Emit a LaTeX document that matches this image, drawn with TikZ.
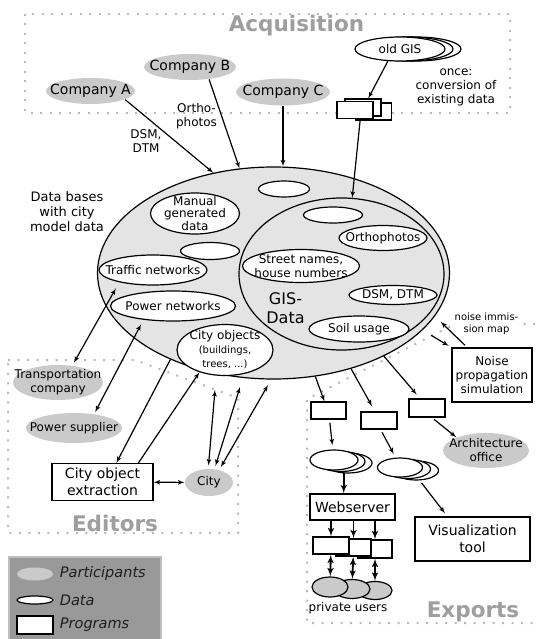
\documentclass[tikz,border=0pt]{standalone}
\usepackage{fontspec}
\setmainfont{DejaVu Sans}
\usetikzlibrary{shapes,arrows,positioning,calc}
\definecolor{dbgray}{RGB}{228,228,228}
\definecolor{partgray}{RGB}{202,202,202}
\definecolor{titlegray}{RGB}{158,158,158}
\definecolor{dotgray}{RGB}{185,185,185}
\definecolor{leggray}{RGB}{153,153,153}
\definecolor{legborder}{RGB}{190,190,190}
\definecolor{legtext}{RGB}{30,30,30}
\tikzset{
db/.style = {draw, fill=dbgray, ellipse, inner sep=0pt},
part/.style = {fill=partgray, ellipse, inner sep=0pt},
data/.style = {draw, fill=white, ellipse, inner sep=0pt},
block/.style = {draw, fill=white, rectangle, inner sep=0pt, align=center},
txt/.style = {label={[align=center]center:#1}},
bigtxt/.style = {label={[align=center, font=\fontsize{14}{16.5}\selectfont]center:#1}},
region/.style = {draw=dotgray, line width=2pt, dash pattern=on 2pt off 7.5pt},
regtitle/.style = {font=\fontsize{21.5}{24}\selectfont\bfseries, text=titlegray},
legitem/.style = {anchor=west, font=\fontsize{14.5}{16}\selectfont\itshape, text=legtext},
thickarrow/.style = {line width=1.9pt}
}
\begin{document}
\begin{tikzpicture}[x=1pt, y=-1pt, >=latex', line width=1.2pt, font=\fontsize{12}{14}\selectfont]
		\useasboundingbox (0,0) rectangle (535,639);

		\draw [region] (25,14) rectangle (510,113);
		\draw [region] (8,360) -- (135,360) -- (238,398) -- (238,533) -- (8,533) -- cycle;
		\draw [region] (535,324) -- (455,324) -- (307,399) -- (307,623) -- (535,623);

		\node [regtitle] (acqtitle) at (296.5,25.5) {Acquisition};
		\node [regtitle] (edittitle) at (115,523) {Editors};
		\node [regtitle] (exptitle) at (473,612) {Exports};

		\node [part, minimum width=89, minimum height=26, bigtxt={Company A}] (compa) at (90.5,91) {};
		\node [part, minimum width=92, minimum height=26, bigtxt={Company B}] (compb) at (190,67) {};
		\node [part, minimum width=94, minimum height=27, bigtxt={Company C}] (compc) at (283,92) {};
		\node [data, minimum width=90, minimum height=24] (oldgis2) at (416,49) {};
		\node [data, minimum width=90, minimum height=24] (oldgis1) at (408,49) {};
		\node [data, minimum width=90, minimum height=24, txt={old GIS}] (oldgis) at (400,49) {};
		\node [align=center] (oncetext) at (456,87.5) {once:\\conversion of\\existing data};
		\node [block, minimum width=36, minimum height=17] (convc) at (373.5,111.5) {};
		\node [block, minimum width=36, minimum height=17] (convb) at (363,107.5) {};
		\node [block, minimum width=36, minimum height=17] (conva) at (355,110) {};

		\node [db, minimum width=352, minimum height=212] (citydb) at (273.5,273) {};
		\node [db, minimum width=205, minimum height=152] (gisdb) at (341.5,274) {};
		\node [font=\fontsize{13}{15}\selectfont, align=center] (dbtext) at (67,211.5) {Data bases\\with city\\model data};

		\node [data, minimum width=51, minimum height=16] (emptya) at (284,189) {};
		\node [data, minimum width=89, minimum height=41, txt={Manual\\[-1.5pt]generated\\[-1.5pt]data}] (manual) at (195,213.5) {};
		\node [data, minimum width=59, minimum height=17] (emptyb) at (210,251) {};
		\node [data, minimum width=108, minimum height=30, txt={Traffic networks}] (traffic) at (153,270) {};
		\node [data, minimum width=125, minimum height=30, txt={Power networks}] (powernet) at (173,306) {};
		\node [data, minimum width=96, minimum height=51, txt={City objects\\{\fontsize{10}{12}\selectfont (buildings,}\\{\fontsize{10}{12}\selectfont trees, ...)}}] (cityobj) at (225,350) {};

		\node [data, minimum width=59, minimum height=16] (emptyc) at (333,215) {};
		\node [data, minimum width=88, minimum height=25, txt={Orthophotos}] (ortho) at (383,238) {};
		\node [data, minimum width=117, minimum height=33, txt={Street names,\\house numbers}] (streets) at (301,266) {};
		\node [data, minimum width=88, minimum height=19, txt={DSM, DTM}] (dsmdtm) at (393,295) {};
		\node [data, minimum width=100, minimum height=26, txt={Soil usage}] (soil) at (359,329) {};
		\node [font=\fontsize{16}{19}\selectfont, align=center] (gistext) at (285.5,308) {GIS-\\Data};

		\node [part, minimum width=90, minimum height=35, txt={Transportation\\company}] (transp) at (58,382.5) {};
		\node [part, minimum width=96, minimum height=30, txt={Power supplier}] (powersup) at (74,428) {};
		\node [block, minimum width=101, minimum height=37, font=\fontsize{14}{16.5}\selectfont] (extract) at (102.5,482) {City object\\extraction};
		\node [part, minimum width=48, minimum height=27, txt={City}] (city) at (209,482.5) {};

		\node [block, minimum width=80, minimum height=54] (noise) at (492,375) {Noise\\propagation\\simulation};
		\node [fill=white, inner sep=1pt, align=center, font=\fontsize{10}{12}\selectfont] (noisemap) at (486.5,324) {noise immis-\\sion map};
		\node [block, minimum width=35, minimum height=17] (proga) at (328.5,410.5) {};
		\node [block, minimum width=36, minimum height=17] (progb) at (379,420.5) {};
		\node [block, minimum width=36, minimum height=18] (progc) at (427,408) {};
		\node [part, minimum width=86, minimum height=35, txt={Architecture\\office}] (arch) at (486,450.5) {};
		\node [data, minimum width=48, minimum height=20] (stacka2) at (348,463) {};
		\node [data, minimum width=48, minimum height=20] (stacka1) at (341,461.5) {};
		\node [data, minimum width=48, minimum height=20] (stacka) at (334,460) {};
		\node [data, minimum width=45, minimum height=19] (stackb2) at (416,470.5) {};
		\node [data, minimum width=45, minimum height=19] (stackb1) at (408,469) {};
		\node [data, minimum width=45, minimum height=19] (stackb) at (400,467.5) {};
		\node [block, minimum width=85, minimum height=26, font=\fontsize{14}{16.5}\selectfont] (web) at (352.5,507) {Webserver};
		\node [block, minimum width=115, minimum height=44, font=\fontsize{14}{16.5}\selectfont] (vis) at (472.5,539) {Visualization\\tool};
		\node [block, minimum width=34, minimum height=18] (clientc) at (375,549) {};
		\node [block, minimum width=35, minimum height=17] (clientb) at (353.5,547.5) {};
		\node [block, minimum width=36, minimum height=17] (clienta) at (331,545.5) {};
		\node [draw, part, minimum width=34, minimum height=18] (userc) at (375,590.5) {};
		\node [draw, part, minimum width=36, minimum height=19] (userb) at (352,589) {};
		\node [draw, part, minimum width=36, minimum height=20] (usera) at (330,587) {};
		\node (privtext) at (348,608) {private users};

		\node [draw=legborder, fill=leggray, line width=1.5pt, anchor=north west, minimum width=152, minimum height=90] (legend) at (8,556) {};
		\node [part, minimum width=36, minimum height=13] (legpart) at (35,574) {};
		\node [legitem] (legparttext) at (56,573) {Participants};
		\node [data, minimum width=36, minimum height=8] (legdata) at (35,600) {};
		\node [legitem] (legdatatext) at (56,600) {Data};
		\node [block, minimum width=36, minimum height=18] (legprog) at (35,625) {};
		\node [legitem] (legprogtext) at (56,625) {Programs};

		\draw [->] (compa.-14) -- (citydb.121);
		\node [align=center] (dsmlabel) at (146,141) {DSM,\\DTM};
		\draw [->] (compb.-33) -- (citydb.108);
		\node [align=center] (ortholabel) at (196.5,116) {Ortho-\\photos};
		\draw [->] (compc) -- (compc |- citydb.north);
		\draw [->] (oldgis.-135) -- (convb.60);
		\draw [->] (conva.-60) -- (gisdb.82);

		\draw [<->, shorten <=3pt, shorten >=7pt] (transp.50) -- (traffic.-160);
		\draw [<->, shorten <=2pt, shorten >=5pt] (powersup.35) -- (powernet.-155);
		\draw [->] (citydb.-140) -- (extract.54);
		\draw [->] (extract.28) -- (cityobj.-139);
		\draw [<->] (extract) -- (city);
		\coordinate (edita) at (215,390);
		\coordinate (editb) at (240,387);
		\coordinate (editc) at (268,385);
		\draw [<->, shorten <=3pt] (city.93) -- (edita);
		\draw [<->, shorten <=3pt] (city.68) -- (editb);
		\draw [<->, shorten <=3pt] (city.51) -- (editc);

		\draw [->, shorten <=3pt, shorten >=8pt] (noise.132) -- (citydb.-15);
		\draw [->, shorten <=10pt, shorten >=3pt] (citydb.-21) -- (noise.north west);
		\draw [->] (citydb.-68) -- (proga.114);
		\draw [->, shorten >=6pt] (citydb.-51) -- (progb.114);
		\draw [->, shorten >=5pt] (citydb.-37) -- (progc.126);
		\draw [->, shorten <=3pt] (progc.-63) -- (arch.156);
		\draw [->, shorten <=3pt, shorten >=4pt] (proga) -- (stacka);
		\draw [->, shorten <=3pt, shorten >=4pt] (progb.-80) -- (stackb.114);
		\draw [->, thickarrow, shorten <=3pt] (stacka.-45) -- (stacka.-45 |- web.north);
		\draw [->, shorten <=3pt, shorten >=4pt] (stackb2.-70) -- (vis.138);
		\draw [->, thickarrow] (clienta |- web.south) -- (clienta);
		\draw [->, thickarrow] (clientb |- web.south) -- (clientb);
		\draw [->, thickarrow] (clientc |- web.south) -- (clientc);
		\draw [<->, thickarrow] (clienta) -- (usera);
		\draw [<->, thickarrow] (clientb) -- (userb);
		\draw [<->, thickarrow] (clientc) -- (userc);
\end{tikzpicture}
\end{document}
